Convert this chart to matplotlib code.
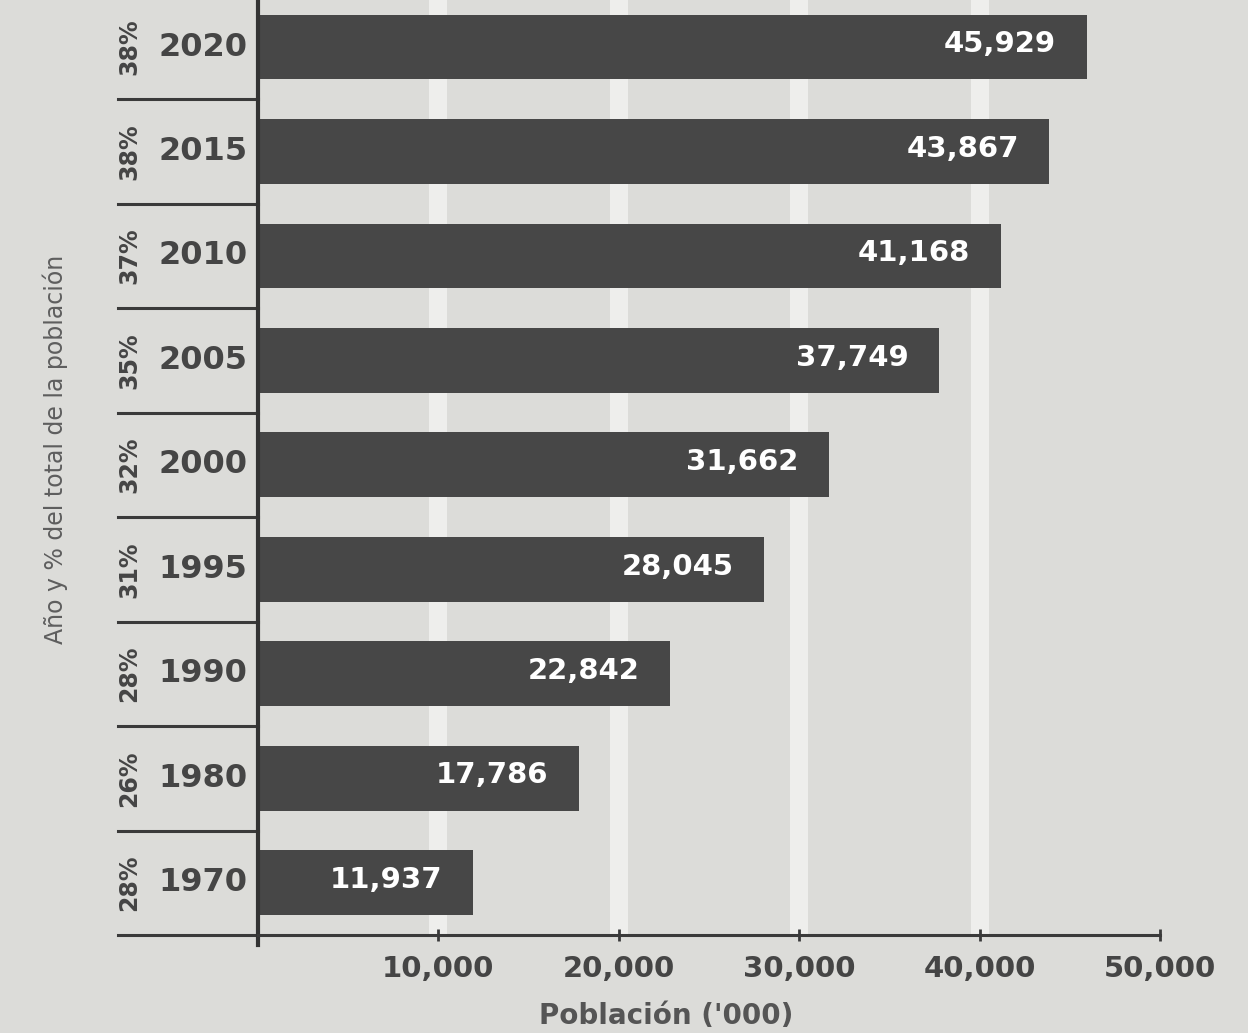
import matplotlib
matplotlib.use('Agg')
import matplotlib.pyplot as plt
import matplotlib.transforms as mtransforms

years = ['1970', '1980', '1990', '1995', '2000', '2005', '2010', '2015', '2020']
population = [11937, 17786, 22842, 28045, 31662, 37749, 41168, 43867, 45929]
share = ['28%', '26%', '28%', '31%', '32%', '35%', '37%', '38%', '38%']
xticks = [10000, 20000, 30000, 40000, 50000]

bg = '#dcdcd9'
bar_color = '#474747'
text_gray = '#454545'

fig = plt.figure(figsize=(12.48, 10.33), dpi=100, facecolor=bg)
ax = fig.add_axes([0.2067, 0.0949, 0.7228, 0.9051])
ax.set_facecolor(bg)

pos = list(range(len(years)))

# white vertical bands behind the bars
for t in xticks[:-1]:
    ax.axvline(t, color='#eeeeec', lw=13, zorder=0)

ax.barh(pos, population, height=0.62, color=bar_color, zorder=2)

# value labels inside the bars
for p, v in zip(pos, population):
    ax.annotate(f'{v:,}', xy=(v, p), xytext=(-22, 2), textcoords='offset points',
                ha='right', va='center', color='white', fontsize=21,
                fontweight='bold', zorder=3)

ax.set_xlim(0, 50000)
ax.set_ylim(-0.5, 8.45)

# spines and ticks
for s in ['top', 'right']:
    ax.spines[s].set_visible(False)
ax.spines['left'].set_color('#333333')
ax.spines['left'].set_linewidth(3)
ax.spines['left'].set_bounds(-0.6, 8.45)
ax.spines['bottom'].set_color('#3a3a3a')
ax.spines['bottom'].set_linewidth(2.2)
ax.set_yticks([])
ax.set_xticks(xticks)
ax.set_xticklabels([f'{t:,}' for t in xticks])
ax.tick_params(axis='x', direction='inout', length=9, width=2, color='#3a3a3a',
               pad=10, labelsize=21, labelcolor=text_gray)
for lab in ax.get_xticklabels():
    lab.set_fontweight('bold')

# row labels and separators to the left of the axis
trans = mtransforms.blended_transform_factory(ax.transAxes, ax.transData)
for p, y, s in zip(pos, years, share):
    ax.text(-0.012, p, y, transform=trans, ha='right', va='center',
            fontsize=23, fontweight='bold', color=text_gray)
    ax.text(-0.143, p, s, transform=trans, ha='center', va='center',
            rotation=90, fontsize=17, fontweight='bold', color=text_gray)
for p in pos:
    ax.plot([-0.155, 0], [p - 0.5, p - 0.5], transform=trans, color='#3a3a3a',
            lw=2.2, clip_on=False)

ax.set_xlabel("Población ('000)", fontsize=20, fontweight='bold', color='#555555')
ax.xaxis.set_label_coords(0.453, -0.072)

fig.text(0.044, 0.565, 'Año y % del total de la población', rotation=90,
         ha='center', va='center', fontsize=17, color='#5e5e5e')

fig.savefig('out.png', dpi=100, facecolor=bg)
